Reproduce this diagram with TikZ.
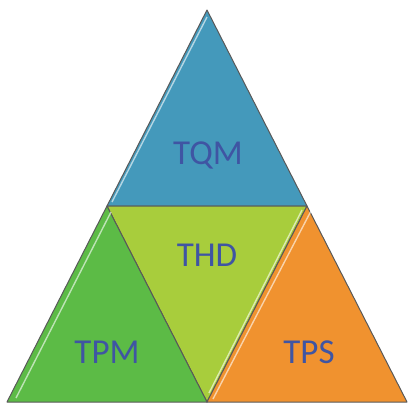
\documentclass[tikz,border=0pt]{standalone}
\usepackage{fontspec}
\setmainfont{Carlito}
\definecolor{tqmblue}{HTML}{4499BB}
\definecolor{thdgreen}{HTML}{A8CD3C}
\definecolor{tpmgreen}{HTML}{5CBB46}
\definecolor{tpsorange}{HTML}{F0922F}
\definecolor{labelblue}{HTML}{3F55A3}
\begin{document}
\begin{tikzpicture}[x=1pt,y=-1pt,
    part/.style={draw=black!65,line width=1pt,line join=round},
    shine/.style={white,opacity=0.6,line width=1.4pt},
    lbl/.style={font=\fontsize{35}{40}\selectfont,text=labelblue}]
  \useasboundingbox (0,0) rectangle (408,408);
  % corners
  \coordinate (apex) at (207,10);
  \coordinate (bl) at (7,402);
  \coordinate (br) at (407,402);
  \coordinate (ml) at (107,206);
  \coordinate (mr) at (307,206);
  \coordinate (mb) at (207,402);
  % the four triangles
  \filldraw[part,fill=tqmblue] (apex) -- (mr) -- (ml) -- cycle;
  \filldraw[part,fill=thdgreen] (ml) -- (mr) -- (mb) -- cycle;
  \filldraw[part,fill=tpmgreen] (ml) -- (mb) -- (bl) -- cycle;
  \filldraw[part,fill=tpsorange] (mr) -- (br) -- (mb) -- cycle;
  % light edges
  \draw[shine] (207,17) -- (112,202);
  \draw[shine] (111,212) -- (16,398);
  \draw[shine] (311,211) -- (213,399);
  \draw[shine] (302,210) -- (209,393);
  % labels
  \node[lbl] (tqm) at (208,155) {TQM};
  \node[lbl] (thd) at (207,255) {THD};
  \node[lbl] (tpm) at (107,352) {TPM};
  \node[lbl] (tps) at (309,352) {TPS};
\end{tikzpicture}
\end{document}
